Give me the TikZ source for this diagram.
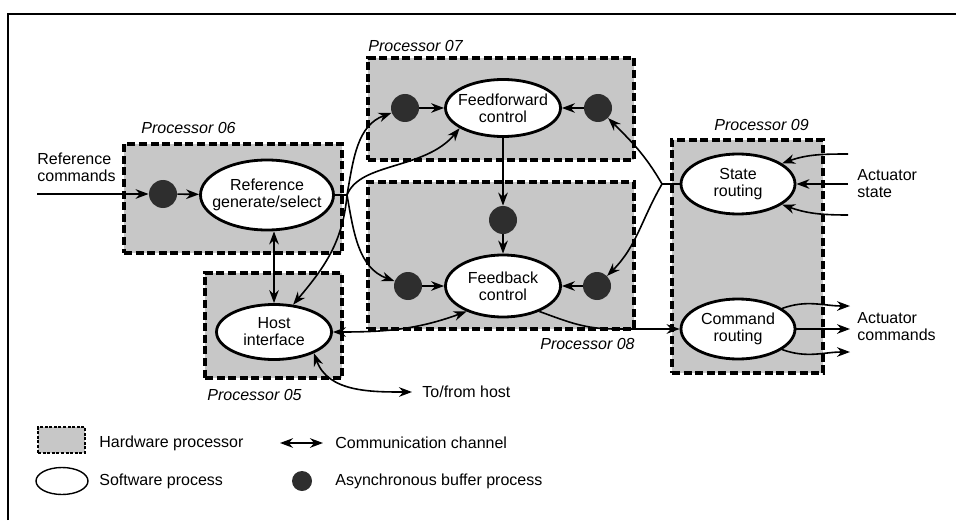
\documentclass[tikz,border=0pt]{standalone}
\usepackage{fontspec}
\setmainfont{Liberation Sans}
\usetikzlibrary{positioning, calc, shapes.geometric, arrows.meta}
\tikzstyle{Arrow} = [thick, -{Stealth[length=6.5pt, width=4.8pt]}]
\tikzstyle{DArrow} = [thick, {Stealth[length=6.5pt, width=4.8pt]}-{Stealth[length=6.5pt, width=4.8pt]}]
\tikzstyle{Line} = [thick]
\tikzstyle{Proc} = [draw, line width=1.6pt, dash pattern=on 4pt off 1.8pt,
        fill=black!22, inner sep=0pt]
\tikzstyle{Soft} = [ellipse, draw, line width=1.4pt, fill=white, inner sep=0pt]
\tikzstyle{Buffer} = [circle, fill=black!82, minimum size=14pt, inner sep=0pt]
\tikzstyle{ProcName} = [font=\fontsize{8}{8.5}\selectfont\itshape, inner sep=0pt]
\tikzstyle{Txt} = [align=center, inner sep=0pt]

\begin{document}
\begin{tikzpicture}[x=0.5pt, y=0.5pt, font=\fontsize{8}{8.5}\selectfont]
    \useasboundingbox (0,0) rectangle (956,520);
    \draw[line width=1pt] (8,0) -- (8,506) -- (956,506);

    % hardware processors
    \node[Proc, minimum width=68.5pt, minimum height=52.5pt] (p05) at (273.5,194.5) {};
    \node[Proc, minimum width=109pt, minimum height=54.5pt] (p06) at (233,321.5) {};
    \node[Proc, minimum width=133pt, minimum height=51pt] (p07) at (501,411) {};
    \node[Proc, minimum width=133pt, minimum height=73.5pt] (p08) at (501,264.5) {};
    \node[Proc, minimum width=75.5pt, minimum height=116.5pt] (p09) at (747.5,263.5) {};

    \node[ProcName, anchor=west] (n05) at (207,125) {Processor 05};
    \node[ProcName, anchor=west] (n06) at (141,392) {Processor 06};
    \node[ProcName, anchor=west] (n07) at (368,474) {Processor 07};
    \node[ProcName, anchor=east] (n08) at (635,176) {Processor 08};
    \node[ProcName, anchor=west] (n09) at (714,395) {Processor 09};

    % software processes
    \node[Soft, minimum width=66.5pt, minimum height=35pt,
        label={[Txt]center:Reference\\generate/select}] (refgen) at (267,325) {};
    \node[Soft, minimum width=57.5pt, minimum height=28.5pt,
        label={[Txt]center:Feedforward\\control}] (ffctl) at (503,412) {};
    \node[Soft, minimum width=57.5pt, minimum height=31pt,
        label={[Txt]center:Feedback\\control}] (fbctl) at (503,234) {};
    \node[Soft, minimum width=57.5pt, minimum height=27.5pt,
        label={[Txt]center:Host\\interface}] (host) at (274,188) {};
    \node[Soft, minimum width=57pt, minimum height=30pt,
        label={[Txt]center:State\\routing}] (state) at (738,336) {};
    \node[Soft, minimum width=57pt, minimum height=30pt,
        label={[Txt]center:Command\\routing}] (cmd) at (738,191) {};

    % buffers
    \node[Buffer] (b06) at (163,326) {};
    \node[Buffer] (b07l) at (405,412) {};
    \node[Buffer] (b07r) at (598,412) {};
    \node[Buffer] (bmid) at (503,300) {};
    \node[Buffer] (b08l) at (408,234) {};
    \node[Buffer] (b08r) at (597,234) {};

    % outside texts
    \node[Txt, align=left, anchor=west] (refcmd) at (37,353) {Reference\\commands};
    \node[Txt, align=left, anchor=west] (actstate) at (857,336) {Actuator\\state};
    \node[Txt, align=left, anchor=west] (actcmd) at (857,193) {Actuator\\commands};
    \coordinate (th) at (412,128);
    \node[Txt, anchor=west, right=5pt of th] (tohost) {To/from host};

    \coordinate (in06) at (37,326);
    \coordinate (br06) at (347,325);
    \coordinate (br09) at (662,336);
    \coordinate (c08) at (615,191);
    \coordinate (as1) at (848,366);
    \coordinate (as2) at (848,336);
    \coordinate (as3) at (848,305);
    \coordinate (ac1) at (850,214);
    \coordinate (ac2) at (850,191);
    \coordinate (ac3) at (850,168);

    % channels
    \draw[Arrow] (in06) -- (b06);
    \draw[Arrow] (b06) -- (refgen);
    \draw[Line] (refgen.east) -- (br06);
    \draw[Arrow] (br06) to[out=80, in=200] (b07l);
    \draw[Arrow] (br06) .. controls (360,358) and (425,350) .. (ffctl.205);
    \draw[Arrow] (br06) to[out=-80, in=160] (b08l);
    \draw[Arrow] (br06) to[out=-95, in=50] (host.55);
    \draw[DArrow] (host.north |- refgen.south) -- (host.north);
    \draw[DArrow] (host.east) to[out=0, in=200] (fbctl.215);
    \draw[DArrow] (host.-28) to[out=-70, in=180] (th);

    \draw[Arrow] (b07l) -- (ffctl);
    \draw[Arrow] (b07r) -- (ffctl);
    \draw[Arrow] (b08l) -- (fbctl);
    \draw[Arrow] (b08r) -- (fbctl);
    \draw[Arrow] (ffctl) -- (bmid);
    \draw[Arrow] (bmid) -- (fbctl);

    \draw[Line] (state.west) -- (br09);
    \draw[Arrow] (br09) to[out=120, in=-45] (b07r);
    \draw[Arrow] (br09) to[out=-120, in=45] (b08r);
    \draw[Arrow] (fbctl.-35) to[out=-20, in=180] (c08) -- (cmd.west);

    \draw[Arrow] (as1) to[out=180, in=20] (state.25);
    \draw[Arrow] (as2) -- (state.east);
    \draw[Arrow] (as3) to[out=180, in=-20] (state.-25);
    \draw[Arrow] (cmd.25) to[out=20, in=180] (ac1);
    \draw[Arrow] (cmd.east) -- (ac2);
    \draw[Arrow] (cmd.-25) to[out=-20, in=180] (ac3);

    % legend
    \node[draw, line width=0.9pt, dash pattern=on 1.5pt off 0.8pt, fill=black!22,
        minimum width=23.5pt, minimum height=13pt, inner sep=0pt] (lhw) at (61.5,80) {};
    \node[Txt, anchor=west] (lhwt) at (99,77) {Hardware processor};
    \node[ellipse, draw, line width=0.7pt, minimum width=26pt, minimum height=13.5pt,
        inner sep=0pt] (lsw) at (62,39) {};
    \node[Txt, anchor=west] (lswt) at (99,39) {Software process};
    \coordinate (lc1) at (280,77);
    \coordinate (lc2) at (323,77);
    \draw[DArrow] (lc1) -- (lc2);
    \node[Txt, anchor=west] (lcct) at (335,77) {Communication channel};
    \node[Buffer, minimum size=10pt] (lbuf) at (302,39) {};
    \node[Txt, anchor=west] (lbuft) at (335,39) {Asynchronous buffer process};
\end{tikzpicture}
\end{document}
